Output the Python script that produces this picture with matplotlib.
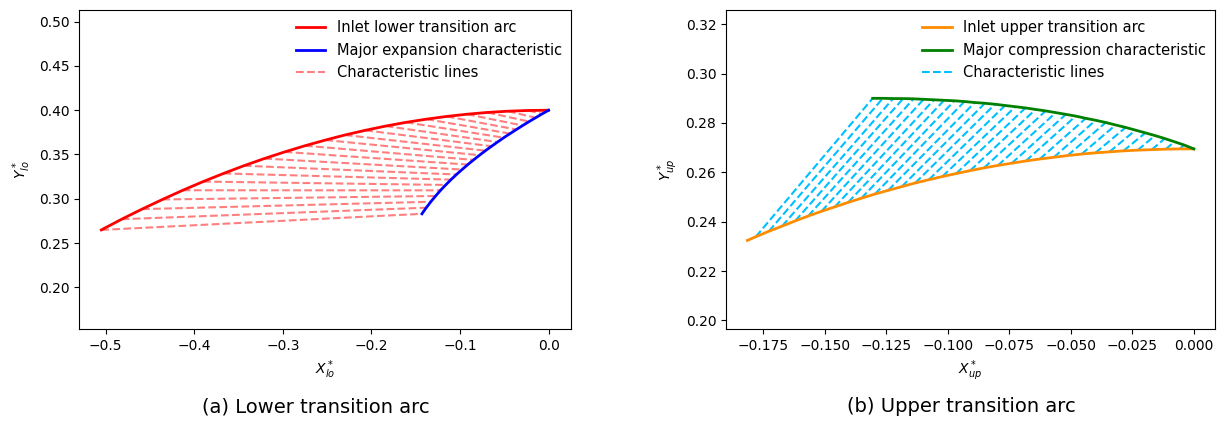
import matplotlib
matplotlib.use("Agg")
import matplotlib.pyplot as plt

# --- lower transition arc (a) ---
# inlet lower transition arc
lo_arc_x = [-0.505, -0.482, -0.459, -0.436, -0.413, -0.390, -0.367, -0.344, -0.321, -0.298, -0.275, -0.252,
            -0.230, -0.207, -0.184, -0.161, -0.138, -0.115, -0.092, -0.069, -0.046, -0.023, 0.000]
lo_arc_y = [0.2648, 0.2769, 0.2883, 0.2992, 0.3096, 0.3194, 0.3286, 0.3373, 0.3454, 0.3529, 0.3599, 0.3663,
            0.3720, 0.3773, 0.3821, 0.3863, 0.3899, 0.3930, 0.3955, 0.3975, 0.3989, 0.3997, 0.4000]
# major expansion characteristic (bottom -> top)
exp_x = [-0.1430, -0.1381, -0.1330, -0.1276, -0.1220, -0.1162, -0.1102, -0.1040, -0.0977, -0.0912, -0.0847, -0.0780,
         -0.0713, -0.0644, -0.0576, -0.0506, -0.0435, -0.0364, -0.0293, -0.0220, -0.0147, -0.0074, 0.0000]
exp_y = [0.2830, 0.2899, 0.2966, 0.3031, 0.3095, 0.3156, 0.3216, 0.3274, 0.3330, 0.3386, 0.3439, 0.3492,
         0.3543, 0.3593, 0.3641, 0.3690, 0.3736, 0.3782, 0.3827, 0.3872, 0.3915, 0.3958, 0.4000]

# --- upper transition arc (b) ---
up_arc_x = [-0.1814, -0.1780, -0.1727, -0.1673, -0.1620, -0.1567, -0.1513, -0.1459, -0.1405, -0.1351, -0.1296,
            -0.1242, -0.1187, -0.1132, -0.1077, -0.1022, -0.0966, -0.0909, -0.0853, -0.0796, -0.0740, -0.0683,
            -0.0626, -0.0569, -0.0513, -0.0456, -0.0400, -0.0343, -0.0286, -0.0228, -0.0171, -0.0114, -0.0057, 0.0000]
up_arc_y = [0.2324, 0.2339, 0.2361, 0.2382, 0.2403, 0.2423, 0.2442, 0.2460, 0.2478, 0.2495, 0.2512,
            0.2527, 0.2542, 0.2557, 0.2570, 0.2583, 0.2595, 0.2607, 0.2618, 0.2628, 0.2637, 0.2646,
            0.2654, 0.2661, 0.2668, 0.2674, 0.2679, 0.2683, 0.2687, 0.2690, 0.2692, 0.2694, 0.2695, 0.2695]
# major compression characteristic
comp_x = [-0.1305, -0.1264, -0.1222, -0.1181, -0.1139, -0.1098, -0.1056, -0.1015, -0.0973, -0.0932, -0.0890,
          -0.0849, -0.0808, -0.0767, -0.0725, -0.0684, -0.0643, -0.0602, -0.0561, -0.0520, -0.0480, -0.0439,
          -0.0399, -0.0358, -0.0318, -0.0277, -0.0237, -0.0197, -0.0158, -0.0118, -0.0079, -0.0040, 0.0000]
comp_y = [0.2900, 0.2900, 0.2899, 0.2899, 0.2898, 0.2896, 0.2894, 0.2892, 0.2890, 0.2887, 0.2883,
          0.2880, 0.2876, 0.2871, 0.2866, 0.2861, 0.2855, 0.2849, 0.2842, 0.2835, 0.2828, 0.2819,
          0.2811, 0.2802, 0.2792, 0.2782, 0.2771, 0.2760, 0.2749, 0.2737, 0.2724, 0.2711, 0.2695]

fig = plt.figure(figsize=(12.26, 4.21), dpi=100)
W, H = 1226, 421
ax1 = fig.add_axes([79 / W, 1 - 329 / H, 492 / W, 319 / H])
ax2 = fig.add_axes([726 / W, 1 - 329 / H, 489 / W, 319 / H])

leg_kw = dict(loc='upper right', bbox_to_anchor=(1.0, 0.995), borderaxespad=0.2, frameon=False, fontsize=10.5)

# (a)
for i in range(len(lo_arc_x)):
    ax1.plot([lo_arc_x[i], exp_x[i]], [lo_arc_y[i], exp_y[i]], '--', color='red', alpha=0.5, lw=1.5,
             label='Characteristic lines' if i == 0 else None)
ax1.plot(lo_arc_x, lo_arc_y, color='red', lw=2, label='Inlet lower transition arc')
ax1.plot(exp_x, exp_y, color='blue', lw=2, label='Major expansion characteristic')
h, l = ax1.get_legend_handles_labels()
ax1.legend([h[1], h[2], h[0]], [l[1], l[2], l[0]], **leg_kw)
ax1.set_xlim(-0.5302, 0.0253)
ax1.set_ylim(0.1529, 0.5132)
ax1.set_xlabel('$X^*_{lo}$')
ax1.set_ylabel('$Y^*_{lo}$')

# (b)
for i in range(len(comp_x)):
    ax2.plot([up_arc_x[i + 1], comp_x[i]], [up_arc_y[i + 1], comp_y[i]], '--', color='#00bfff', lw=1.5,
             label='Characteristic lines' if i == 0 else None)
ax2.plot(up_arc_x, up_arc_y, color='darkorange', lw=2, label='Inlet upper transition arc')
ax2.plot(comp_x, comp_y, color='green', lw=2, label='Major compression characteristic')
h, l = ax2.get_legend_handles_labels()
ax2.legend([h[1], h[2], h[0]], [l[1], l[2], l[0]], **leg_kw)
ax2.set_xlim(-0.1901, 0.0086)
ax2.set_ylim(0.1965, 0.3258)
ax2.set_xlabel('$X^*_{up}$')
ax2.set_ylabel('$Y^*_{up}$')

fig.text(316 / W, 1 - 407 / H, '(a) Lower transition arc', ha='center', va='center', fontsize=14)
fig.text(961 / W, 1 - 407 / H, '(b) Upper transition arc', ha='center', va='center', fontsize=14)

fig.savefig('out.png', dpi=100)
